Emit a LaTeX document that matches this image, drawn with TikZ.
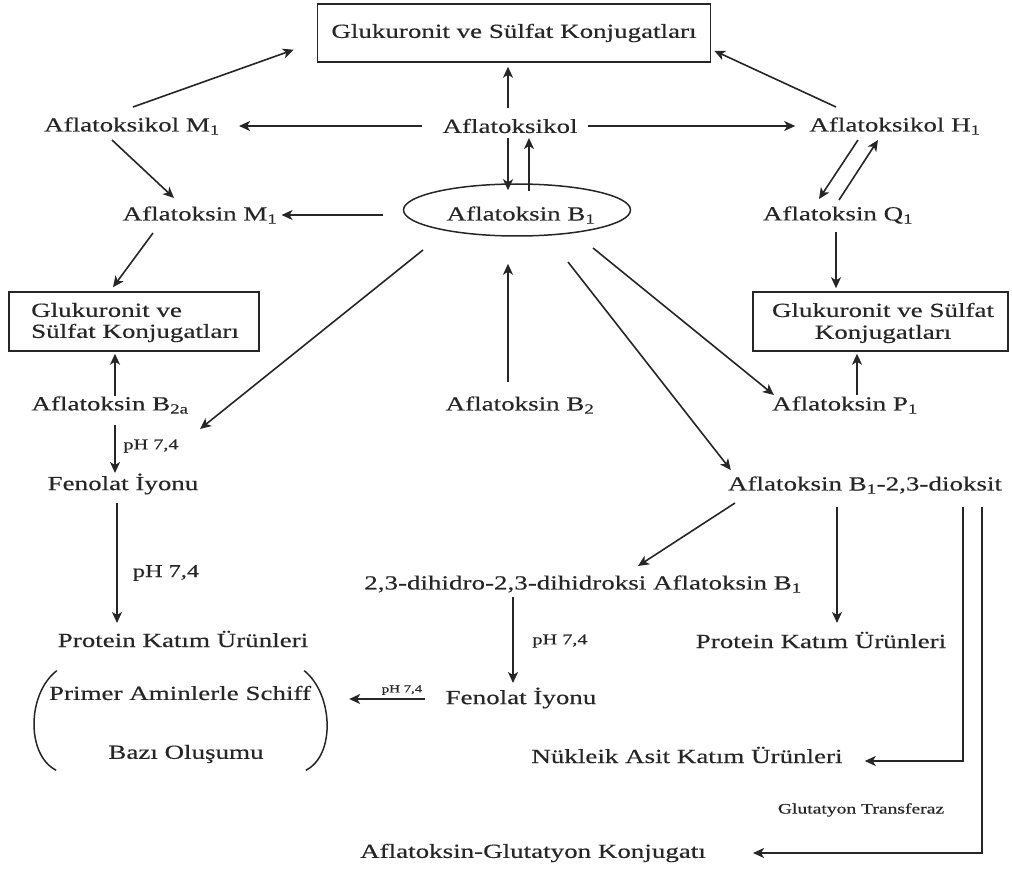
\documentclass[tikz,border=0pt]{standalone}
\usepackage{fontspec}
\setmainfont{Liberation Serif}[FakeStretch=1.35,FakeBold=0.4]
\usetikzlibrary{calc,shapes.geometric,arrows.meta}
\definecolor{ink}{HTML}{262626}
\begin{document}
\begin{tikzpicture}[x=1pt,y=-1pt,
  lbl/.style={inner sep=0pt,font=\fontsize{20}{24}\selectfont,text=ink},
  sm/.style={inner sep=0pt,font=\fontsize{15}{18}\selectfont,text=ink},
  boxed/.style={draw=ink,line width=1.5pt,inner sep=0pt},
  arr/.style={draw=ink,line width=1.6pt,-{Stealth[length=11pt,width=10pt,inset=3pt]}},
  ln/.style={draw=ink,line width=1.5pt}]
\useasboundingbox (0,0) rectangle (1012,869);
% nodes
\node[lbl,boxed,minimum width=393pt,minimum height=58pt] (top) at (514,33) {Glukuronit ve Sülfat Konjugatları};
\node[lbl] (akM1) at (132,126) {Aflatoksikol M\textsubscript{1}};
\node[lbl] (ak) at (510,126) {Aflatoksikol};
\node[lbl] (akH1) at (895,126) {Aflatoksikol H\textsubscript{1}};
\node[lbl] (afM1) at (200,215) {Aflatoksin M\textsubscript{1}};
\node[lbl,boxed,ellipse,minimum width=227pt,minimum height=52pt] (B1) at (517,210) {};
\node[lbl] (B1t) at (521,215) {Aflatoksin B\textsubscript{1}};
\node[lbl] (Q1) at (838,215) {Aflatoksin Q\textsubscript{1}};
\node[boxed,minimum width=250pt,minimum height=59pt] (lbox) at (134,321.5) {};
\node[lbl,anchor=west] (lbox1) at (31,310) {Glukuronit ve};
\node[lbl,anchor=west] (lbox2) at (31,333) {Sülfat Konjugatları};
\node[boxed,minimum width=255pt,minimum height=59pt] (rbox) at (880.5,321.5) {};
\node[lbl] (rbox1) at (883,310) {Glukuronit ve Sülfat};
\node[lbl] (rbox2) at (883,334) {Konjugatları};
\node[lbl] (B2a) at (110,405) {Aflatoksin B\textsubscript{2a}};
\node[lbl] (B2) at (520,405) {Aflatoksin B\textsubscript{2}};
\node[lbl] (P1) at (845,405) {Aflatoksin P\textsubscript{1}};
\node[lbl] (FenL) at (123,484) {Fenolat İyonu};
\node[lbl] (diok) at (865,485) {Aflatoksin B\textsubscript{1}-2,3-dioksit};
\node[lbl] (dihi) at (583,584) {2,3-dihidro-2,3-dihidroksi Aflatoksin B\textsubscript{1}};
\node[lbl] (protL) at (183,639) {Protein Katım Ürünleri};
\node[lbl] (protR) at (821,640) {Protein Katım Ürünleri};
\node[lbl] (prim) at (180,693) {Primer Aminlerle Schiff};
\node[lbl] (bazi) at (186,754) {Bazı Oluşumu};
\node[lbl] (FenR) at (521,698) {Fenolat İyonu};
\node[lbl] (nuk) at (687,755) {Nükleik Asit Katım Ürünleri};
\node[sm,font=\fontsize{14.5}{16}\selectfont] (gt) at (861,810) {Glutatyon Transferaz};
\node[lbl] (agk) at (533,853) {Aflatoksin-Glutatyon Konjugatı};
\node[sm] (ph1) at (151,446) {pH 7,4};
\node[sm,font=\fontsize{18}{20}\selectfont] (ph2) at (166,573) {pH 7,4};
\node[sm] (ph3) at (560,641) {pH 7,4};
\node[sm,font=\fontsize{11}{12}\selectfont] (ph4) at (402,690) {pH 7,4};
% parentheses
\draw[ln] ($(prim.north west)+(8,-15)$) .. controls ($(prim.north west)+(-22,8)$) and ($(bazi.south west)+(-82,-8)$) .. ($(bazi.south west)+(-52,7)$);
\draw[ln] ($(prim.north east)+(-7,-15)$) .. controls ($(prim.north east)+(22,8)$) and ($(bazi.south east)+(72,-8)$) .. ($(bazi.south east)+(42,7)$);
% arrows
\draw[arr] ($(akM1)+(1,-19)$) -- ($(top.south west)+(-23,-13)$);
\draw[arr] ($(akH1)+(-59,-19)$) -- ($(top.south east)+(3,-12)$);
\draw[arr] ($(ak)+(-2,-18)$) -- ($(top.south)+(-6,4)$);
\draw[arr] ($(ak)+(-88,0)$) -- ($(akM1.east)+(19,0)$);
\draw[arr] ($(ak)+(78,0)$) -- ($(akH1.west)+(-14,0)$);
\draw[arr] ($(ak)+(-2,12)$) -- ($(B1.north)+(-9,7)$);
\draw[arr] ($(B1.north)+(12,8)$) -- ($(ak)+(19,12)$);
\draw[arr] ($(akM1)+(-20,14)$) -- ($(afM1)+(-26,-17)$);
\draw[arr] ($(B1.west)+(-20,5)$) -- ($(afM1.east)+(4,0)$);
\draw[arr] ($(akH1)+(-37,14)$) -- ($(Q1)+(-19,-16)$);
\draw[arr] ($(Q1)+(1,-15)$) -- ($(akH1)+(-17,14)$);
\draw[arr] ($(Q1)+(-2,17)$) -- ($(rbox.north)+(-44.5,-3)$);
\draw[arr] ($(afM1)+(-47,18)$) -- ($(lbox.north)+(-21,-4)$);
\draw[arr] ($(B2a)+(5,-9)$) -- ($(lbox.south)+(-19,2)$);
\draw[arr] ($(B1)+(-94,40)$) -- ($(B2a)+(90,24)$);
\draw[arr] ($(B2)+(-12,-23)$) -- ($(B1.south)+(-9,27)$);
\draw[arr] ($(B1)+(76,38)$) -- ($(P1.west)+(2,-10)$);
\draw[arr] ($(B1)+(51,52)$) -- ($(diok.west)+(3,-15)$);
\draw[arr] ($(P1)+(12,-10)$) -- ($(rbox.south)+(-23.5,2)$);
\draw[arr] ($(B2a)+(5,20)$) -- ($(FenL)+(-8,-11)$);
\draw[arr] ($(FenL)+(-6,19)$) -- ($(protL)+(-66,-16)$);
\draw[arr] ($(diok)+(-130,18)$) -- ($(dihi)+(55,-18)$);
\draw[arr] ($(diok)+(-28,22)$) -- ($(protR)+(16,-17)$);
\draw[arr] ($(diok)+(98,22)$) |- ($(nuk.east)+(22,6)$);
\draw[arr] ($(diok)+(117,22)$) |- ($(agk.east)+(47,0)$);
\draw[arr] ($(dihi)+(-70,13)$) -- ($(FenR)+(-8,-15)$);
\draw[arr] ($(FenR.west)+(-20,1)$) -- ($(prim.east)+(38,6)$);
\end{tikzpicture}
\end{document}
